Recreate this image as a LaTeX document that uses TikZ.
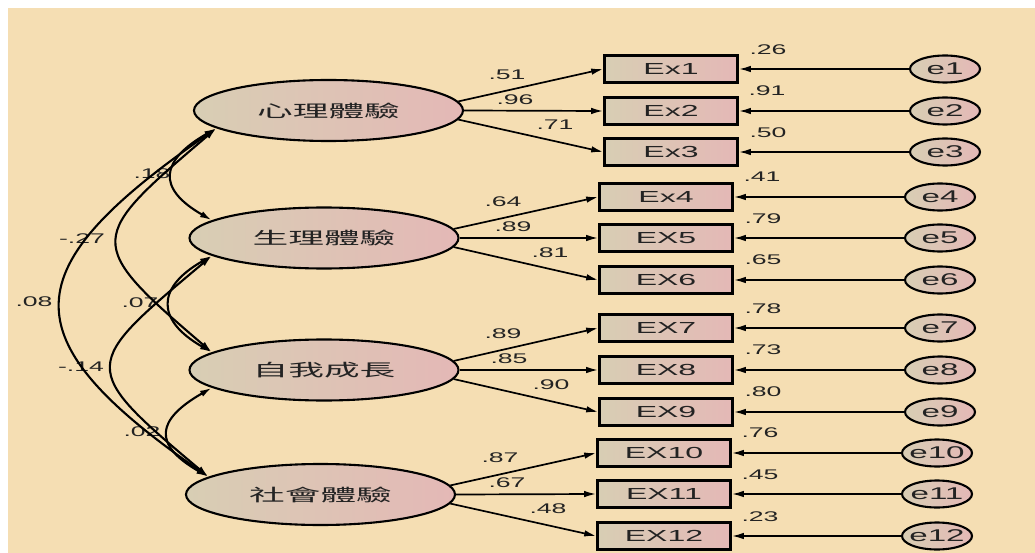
\documentclass[tikz,border=0pt]{standalone}
\usepackage{fontspec}
\setmainfont{Liberation Sans}
\newfontfamily\cjk{Noto Sans CJK TC}
\usepackage{graphicx}
\usetikzlibrary{arrows.meta,shapes.geometric}
\definecolor{bgc}{RGB}{245,222,179}
\definecolor{shL}{RGB}{216,206,180}
\definecolor{shR}{RGB}{228,184,182}
\definecolor{txt}{RGB}{35,35,35}
\newcommand{\sxt}[2]{\scalebox{#1}[1]{#2}}
\newcommand{\ztxt}[1]{\makebox[0pt]{\scalebox{1.95}[1]{#1}}}
\begin{document}
\begin{tikzpicture}[x=1pt,y=-1pt,
 lat/.style={ellipse, draw, line width=2.1pt, minimum width=269pt, minimum height=61pt, inner sep=0pt,
   left color=shL, right color=shR, text=txt, font=\cjk\fontsize{17}{17}\selectfont},
 obs/.style={rectangle, draw, line width=2.6pt, minimum width=133pt, minimum height=27pt, inner sep=0pt,
   left color=shL, right color=shR, text=txt, font=\fontsize{16}{16}\selectfont},
 err/.style={ellipse, draw, line width=2.1pt, minimum width=70pt, minimum height=27pt, inner sep=0pt,
   left color=shL, right color=shR, text=txt, font=\fontsize{17}{17}\selectfont},
 lbl/.style={font=\fontsize{14}{14}\selectfont, inner sep=0pt, text=txt},
 load/.style={line width=1.7pt, -{Latex[length=12pt,width=6.5pt]}},
 cov/.style={line width=2.1pt, {Latex[length=12pt,width=6.5pt]}-{Latex[length=12pt,width=6.5pt]}},
]
\useasboundingbox (0,0) rectangle (1035,553);
\fill[white] (0,0) rectangle (1035,553);
\fill[bgc] (8,8) rectangle (1035,553);

% latent variables
\node[lat] (L1) at (328.5,110.5) {\sxt{2.1}{心理體驗}};
\node[lat] (L2) at (324,238) {\sxt{2.1}{生理體驗}};
\node[lat] (L3) at (324,370) {\sxt{2.1}{自我成長}};
\node[lat] (L4) at (320.5,494.5) {\sxt{2.1}{社會體驗}};

% observed variables
\node[obs] (x1) at (671,69) {\sxt{2}{Ex1}};
\node[obs] (x2) at (671,111) {\sxt{2}{Ex2}};
\node[obs] (x3) at (671,152) {\sxt{2}{Ex3}};
\node[obs] (x4) at (666,197) {\sxt{2}{Ex4}};
\node[obs] (x5) at (666,238) {\sxt{2}{EX5}};
\node[obs] (x6) at (666,280) {\sxt{2}{EX6}};
\node[obs] (x7) at (666,328) {\sxt{2}{EX7}};
\node[obs] (x8) at (666,370) {\sxt{2}{EX8}};
\node[obs] (x9) at (666,412) {\sxt{2}{EX9}};
\node[obs] (x10) at (664,453) {\sxt{2}{EX10}};
\node[obs] (x11) at (664,494) {\sxt{2}{EX11}};
\node[obs] (x12) at (664,536) {\sxt{2}{EX12}};

% errors
\node[err] (e1) at (945,69) {\ztxt{e1}};
\node[err] (e2) at (945,111) {\ztxt{e2}};
\node[err] (e3) at (945,152) {\ztxt{e3}};
\node[err] (e4) at (940,197) {\ztxt{e4}};
\node[err] (e5) at (940,238) {\ztxt{e5}};
\node[err] (e6) at (940,280) {\ztxt{e6}};
\node[err] (e7) at (940,328) {\ztxt{e7}};
\node[err] (e8) at (940,370) {\ztxt{e8}};
\node[err] (e9) at (940,412) {\ztxt{e9}};
\node[err] (e10) at (937,453) {\ztxt{e10}};
\node[err] (e11) at (937,494) {\ztxt{e11}};
\node[err] (e12) at (937,536) {\ztxt{e12}};

% error paths
\foreach \i in {1,...,12} \draw[load] (e\i.west) -- (x\i.east);

% loadings
\draw[load] (L1.4) -- (x1.west);
\draw[load] (L1.0) -- (x2.west);
\draw[load] (L1.-4) -- (x3.west);
\draw[load] (L2.4) -- (x4.west);
\draw[load] (L2.0) -- (x5.west);
\draw[load] (L2.-4) -- (x6.west);
\draw[load] (L3.4) -- (x7.west);
\draw[load] (L3.0) -- (x8.west);
\draw[load] (L3.-4) -- (x9.west);
\draw[load] (L4.4) -- (x10.west);
\draw[load] (L4.0) -- (x11.west);
\draw[load] (L4.-4) -- (x12.west);

% loading labels
\node[lbl] (p1) at (507,75) {\sxt{1.9}{.51}};
\node[lbl] (p2) at (515,100) {\sxt{1.9}{.96}};
\node[lbl] (p3) at (555,125) {\sxt{1.9}{.71}};
\node[lbl] (p4) at (503,202) {\sxt{1.9}{.64}};
\node[lbl] (p5) at (513,227) {\sxt{1.9}{.89}};
\node[lbl] (p6) at (550,253) {\sxt{1.9}{.81}};
\node[lbl] (p7) at (503,334) {\sxt{1.9}{.89}};
\node[lbl] (p8) at (509,359) {\sxt{1.9}{.85}};
\node[lbl] (p9) at (551,385) {\sxt{1.9}{.90}};
\node[lbl] (p10) at (500,458) {\sxt{1.9}{.87}};
\node[lbl] (p11) at (507,483) {\sxt{1.9}{.67}};
\node[lbl] (p12) at (548,509) {\sxt{1.9}{.48}};

% squared multiple correlations
\node[lbl] (r1) at (768,50) {\sxt{1.9}{.26}};
\node[lbl] (r2) at (767,91) {\sxt{1.9}{.91}};
\node[lbl] (r3) at (768,133) {\sxt{1.9}{.50}};
\node[lbl] (r4) at (762,177) {\sxt{1.9}{.41}};
\node[lbl] (r5) at (763,219) {\sxt{1.9}{.79}};
\node[lbl] (r6) at (763,260) {\sxt{1.9}{.65}};
\node[lbl] (r7) at (763,309) {\sxt{1.9}{.78}};
\node[lbl] (r8) at (763,350) {\sxt{1.9}{.73}};
\node[lbl] (r9) at (763,392) {\sxt{1.9}{.80}};
\node[lbl] (r10) at (760,433) {\sxt{1.9}{.76}};
\node[lbl] (r11) at (760,475) {\sxt{1.9}{.45}};
\node[lbl] (r12) at (760,517) {\sxt{1.9}{.23}};

% covariance labels
\node[lbl] (c12) at (152,174) {\sxt{1.9}{.18}};
\node[lbl] (c13) at (82,239) {\sxt{1.9}{-.27}};
\node[lbl] (c14) at (34,302) {\sxt{1.9}{.08}};
\node[lbl] (c23) at (140,303) {\sxt{1.9}{.07}};
\node[lbl] (c24) at (81,367) {\sxt{1.9}{-.14}};
\node[lbl] (c34) at (142,432) {\sxt{1.9}{.02}};

% covariances
\draw[cov] (L1.189) .. controls +(-56,32) and +(-56,-32) .. (L2.171);
\draw[cov] (L2.189) .. controls +(-56,32) and +(-56,-32) .. (L3.171);
\draw[cov] (L3.189) .. controls +(-56,32) and +(-56,-32) .. (L4.171);
\draw[cov] (L1.189) .. controls +(-129,110) and +(-129,-110) .. (L3.171);
\draw[cov] (L2.189) .. controls +(-131,110) and +(-131,-110) .. (L4.171);
\draw[cov] (L1.189) .. controls +(-202,140) and +(-202,-140) .. (L4.171);
\end{tikzpicture}
\end{document}
